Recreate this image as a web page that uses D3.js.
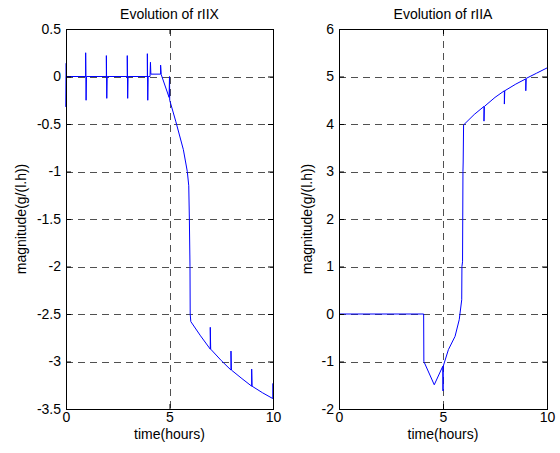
<!DOCTYPE html>
<html>
<head>
<meta charset="utf-8">
<script src="https://cdn.jsdelivr.net/npm/d3@7"></script>
<style>
	body { margin: 0; background: #fff; }
	text { font-family: "Liberation Sans", Arial, sans-serif; font-size: 14px; fill: #000; }
</style>
</head>
<body>
<div id="fig"></div>
<script>
//Data (time in hours, magnitude in g/(l.h))

	//rIIX - flat with spikes, falls after 4.6 h
	var rIIXTime = [0, 0, 0.02, 0.95, 0.95, 0.97, 0.99, 1.95, 1.95, 1.97, 1.99, 2.96, 2.96, 2.98, 3.0,
		3.93, 3.93, 3.95, 3.97, 4.06, 4.08, 4.1, 4.57, 4.57, 4.6, 4.98, 5.0, 5.01, 5.3, 5.67, 5.86, 5.93,
		5.96, 5.99, 6.0, 6.03, 6.5, 6.97, 6.97, 6.99, 7.5, 7.97, 7.97, 7.99, 8.5, 8.97, 8.97, 8.99, 9.5, 9.99, 9.99];
	var rIIXValue = [0.14, -0.32, 0, 0, 0.25, -0.25, 0, 0, 0.22, -0.23, 0, 0, 0.22, -0.23, 0,
		0, 0.24, -0.25, 0, 0, 0.15, 0.025, 0.025, 0.12, 0.02, -0.22, 0, -0.25, -0.47, -0.77, -1.0, -1.15,
		-1.5, -2.0, -2.5, -2.58, -2.73, -2.87, -2.64, -2.87, -2.99, -3.09, -2.89, -3.09, -3.18, -3.26, -3.08, -3.26, -3.33, -3.39, -3.23];

	//rIIA - zero, dips after 4 h, then climbs
	var rIIATime = [0, 4.07, 4.08, 4.58, 4.99, 5.0, 5.01, 5.26, 5.58, 5.78, 5.9, 5.91, 5.94, 5.96, 5.97, 5.99,
		6.5, 6.97, 6.97, 6.99, 7.5, 7.95, 7.95, 7.97, 8.5, 8.98, 8.98, 9.0, 9.5, 10];
	var rIIAValue = [0, 0, -1.0, -1.49, -1.1, -1.62, -1.1, -0.75, -0.47, -0.12, 0.3, 1.0, 1.1, 3.0, 3.2, 3.98,
		4.2, 4.37, 4.06, 4.37, 4.56, 4.70, 4.42, 4.70, 4.84, 4.95, 4.70, 4.96, 5.07, 5.18];

	//Axis ticks
	var xTicks = [0, 5, 10];
	var rIIXTicks = [0.5, 0, -0.5, -1, -1.5, -2, -2.5, -3, -3.5];
	var rIIATicks = [6, 5, 4, 3, 2, 1, 0, -1, -2];

//Canvas
	var W = 560, H = 453;

	var svg = d3.select("#fig").append("svg")
		.attr("width", W)
		.attr("height", H);

	//Matlab style labels: "0", "-1", "0.5"
	var fmt = function(d) { return String(d); };

	//Panel boxes in page pixels
	var panels = [
		{left: 66, right: 273, top: 29, bottom: 409, title: "Evolution of rIIX",
			t: rIIXTime, v: rIIXValue, yTicks: rIIXTicks, ylabX: 26},
		{left: 339, right: 547, top: 29, bottom: 409, title: "Evolution of rIIA",
			t: rIIATime, v: rIIAValue, yTicks: rIIATicks, ylabX: 312}
	];

	panels.forEach(function(p) {
		var w = p.right - p.left,
			h = p.bottom - p.top;

		var x = d3.scaleLinear().domain([0, 10]).range([0, w]);
		var y = d3.scaleLinear().domain(d3.extent(p.yTicks)).range([h, 0]);

		var g = svg.append("g")
			.attr("transform", "translate(" + p.left + "," + p.top + ")");

		//Dashed grid (interior lines only, frame covers the edges)
		g.append("g").selectAll("line")
			.data(p.yTicks.filter(function(d) { return d !== y.domain()[0] && d !== y.domain()[1]; }))
			.enter().append("line")
			.attr("x1", 0).attr("x2", w)
			.attr("y1", function(d) { return Math.round(y(d)) + 0.5; })
			.attr("y2", function(d) { return Math.round(y(d)) + 0.5; })
			.attr("stroke", "#505050").attr("stroke-dasharray", "7,5");

		g.append("g").selectAll("line")
			.data(xTicks.filter(function(d) { return d !== 0 && d !== 10; }))
			.enter().append("line")
			.attr("y1", 0).attr("y2", h)
			.attr("x1", function(d) { return Math.round(x(d)) + 0.5; })
			.attr("x2", function(d) { return Math.round(x(d)) + 0.5; })
			.attr("stroke", "#505050").attr("stroke-dasharray", "7,5");

		//Series
		var pts = p.t.map(function(d, i) { return [d, p.v[i]]; });
		g.append("path")
			.datum(pts)
			.attr("fill", "none")
			.attr("stroke", "#0000ff")
			.attr("stroke-width", 1)
			.attr("d", d3.line()
				.x(function(d) { return x(d[0]); })
				.y(function(d) { return y(d[1]); }));

		//Axes with inward ticks on all four sides
		g.append("g").attr("transform", "translate(0," + h + ")")
			.call(d3.axisBottom(x).tickValues(xTicks).tickFormat(fmt).tickSizeInner(-5).tickSizeOuter(0).tickPadding(3));
		g.append("g")
			.call(d3.axisLeft(y).tickValues(p.yTicks).tickFormat(fmt).tickSizeInner(-5).tickSizeOuter(0).tickPadding(5));
		g.append("g")
			.call(d3.axisTop(x).tickValues(xTicks).tickSizeInner(-5).tickSizeOuter(0).tickFormat(""));
		g.append("g").attr("transform", "translate(" + w + ",0)")
			.call(d3.axisRight(y).tickValues(p.yTicks).tickSizeInner(-5).tickSizeOuter(0).tickFormat(""));

		g.selectAll(".domain").remove();
		g.selectAll(".tick line").attr("stroke", "#000");
		g.selectAll(".tick text")
			.attr("font-family", "Liberation Sans, Arial, sans-serif")
			.attr("font-size", 14);

		//Frame
		g.append("rect")
			.attr("x", 0.5).attr("y", 0.5)
			.attr("width", w).attr("height", h)
			.attr("fill", "none").attr("stroke", "#000");

		//Titles and labels
		svg.append("text")
			.attr("x", p.left + w / 2).attr("y", 18.5)
			.attr("text-anchor", "middle")
			.text(p.title);

		svg.append("text")
			.attr("x", p.left + w / 2).attr("y", 439)
			.attr("text-anchor", "middle")
			.text("time(hours)");

		svg.append("text")
			.attr("transform", "translate(" + p.ylabX + "," + (p.top + h / 2) + ") rotate(-90)")
			.attr("text-anchor", "middle")
			.text("magnitude(g/(l.h))");
	});
</script>
</body>
</html>
